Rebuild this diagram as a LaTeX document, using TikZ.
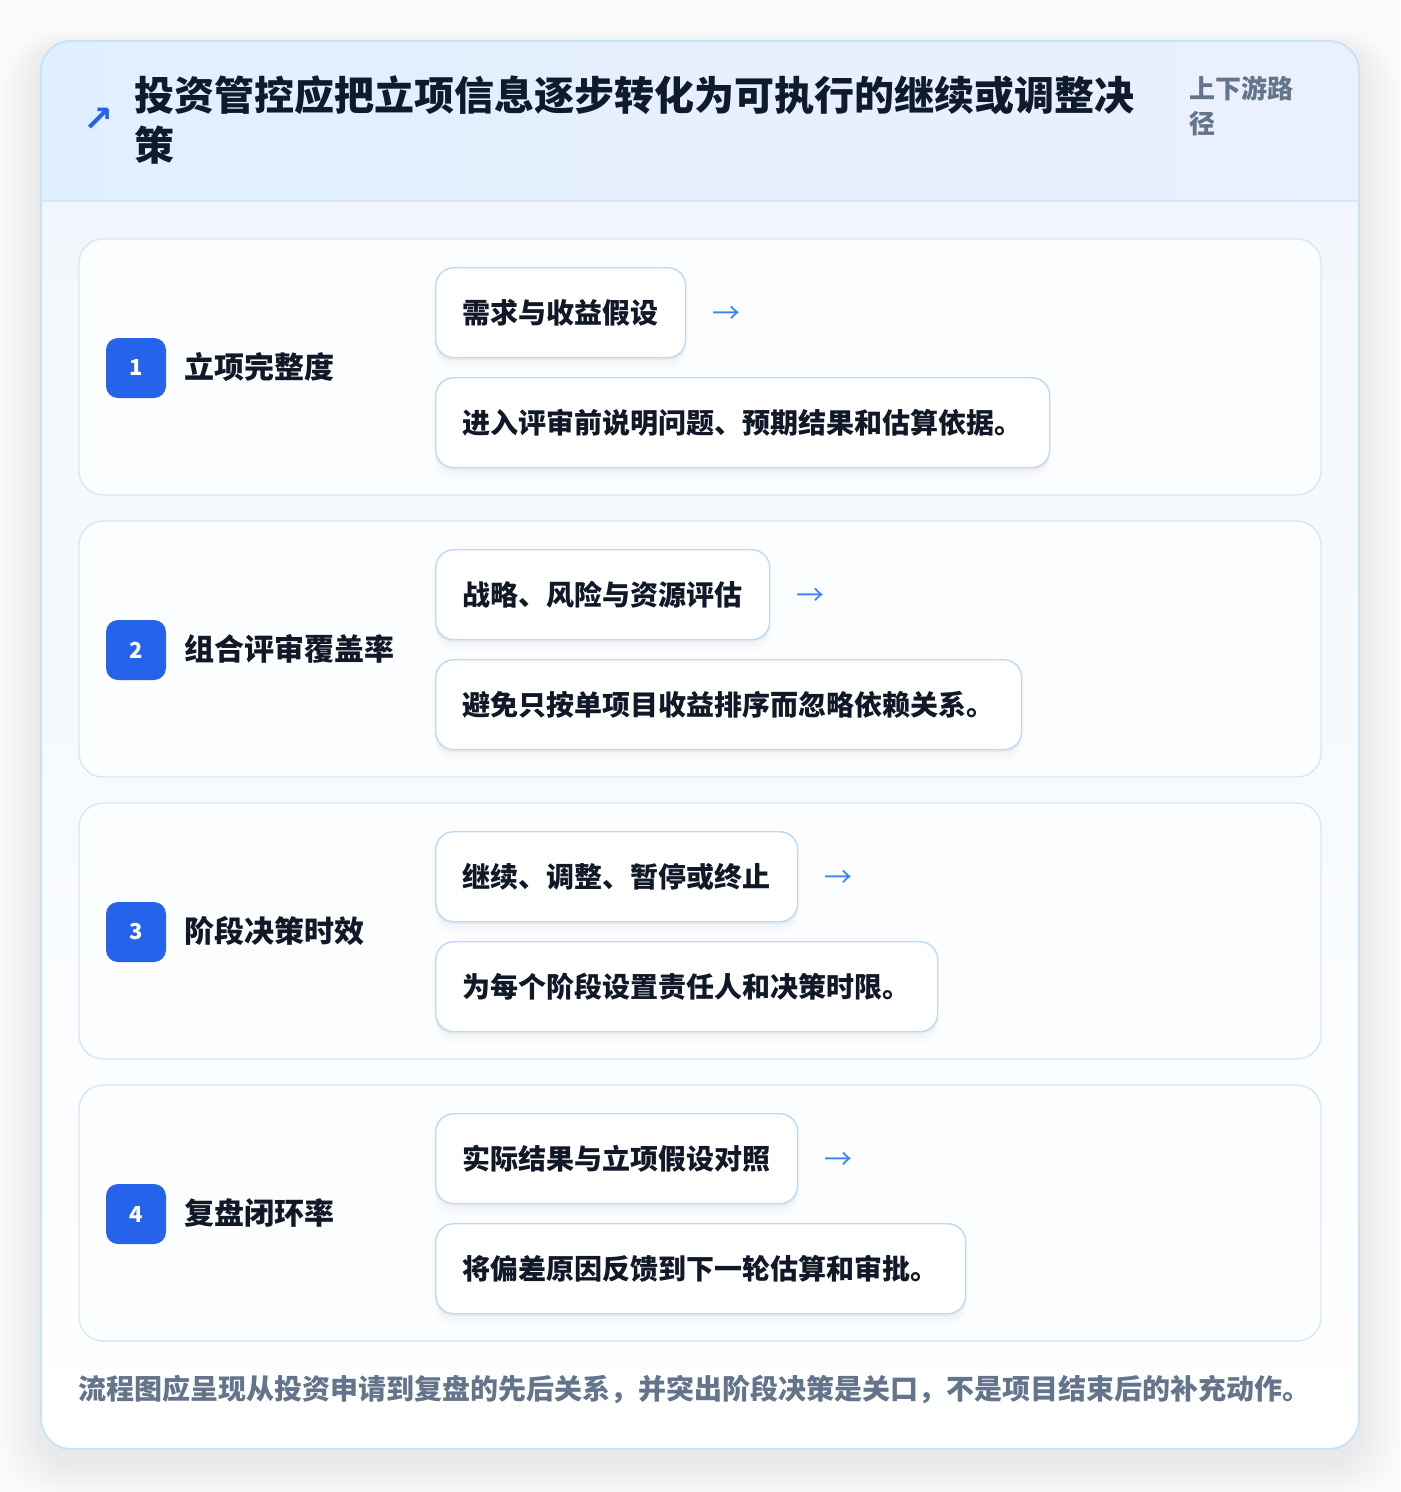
\documentclass[tikz,border=0pt]{standalone}
\usepackage{fontspec}
\newfontfamily\cjk{Noto Sans CJK SC}
\newfontfamily\dejavu{DejaVu Sans}
\usetikzlibrary{positioning,calc,shadows}
\definecolor{pagebg}{HTML}{FAFAFB}
\definecolor{cardborder}{HTML}{C6E3F7}
\definecolor{headL}{HTML}{E0EFFE}
\definecolor{headR}{HTML}{EBF0FD}
\definecolor{headline}{HTML}{D5E7F8}
\definecolor{bodytop}{HTML}{F1F7FC}
\definecolor{rowfill}{HTML}{FCFDFE}
\definecolor{rowborder}{HTML}{D6E9F8}
\definecolor{boxborder}{HTML}{BFD9F6}
\definecolor{ink}{HTML}{111827}
\definecolor{titleink}{HTML}{0F1B2D}
\definecolor{muted}{HTML}{64748B}
\definecolor{brand}{HTML}{2563EB}
\definecolor{arrowblue}{HTML}{3B82F6}
\tikzset{
  rowcard/.style={draw=rowborder, line width=1.1pt, fill=rowfill, rounded corners=18pt},
  badgebox/.style={fill=brand, rounded corners=9pt, minimum width=45pt, minimum height=45pt, inner sep=0pt,
    text=white, font=\cjk\bfseries\fontsize{16.5}{18}\selectfont},
  rowlabel/.style={anchor=west, inner sep=0pt, text=ink, font=\cjk\bfseries\fontsize{22.5}{26}\selectfont},
  stepbox/.style={anchor=north west, draw=boxborder, line width=1.1pt, fill=white, rounded corners=13.5pt,
    minimum height=67.5pt, inner xsep=20.25pt, inner ysep=0pt, text=ink,
    font=\cjk\bfseries\fontsize{21}{24}\selectfont,
    drop shadow={shadow xshift=0pt, shadow yshift=-2pt, opacity=0.03, fill=black},
    drop shadow={shadow xshift=0pt, shadow yshift=-5pt, opacity=0.02, fill=black},
    drop shadow={shadow xshift=0pt, shadow yshift=-9pt, opacity=0.012, fill=black}},
  arrowtext/.style={anchor=west, inner sep=0pt, text=arrowblue, font=\cjk\fontsize{21}{24}\selectfont},
}
\begin{document}
\begin{tikzpicture}[x=0.75pt,y=-0.75pt]
% page
\fill[pagebg] (0,0) rectangle (1400,1492);
\useasboundingbox (0,0) rectangle (1400,1492);
% outer shadow (soft, mostly below)
\foreach \i in {1,...,16}{
  \fill[black, opacity=0.0055, rounded corners=22.5pt+\i*1.5pt]
    ({41-\i*2.4},{41+10-\i*1.4}) rectangle ({1359+\i*2.4},{1449+14+\i*2.2});
}
% outer card
\fill[white, rounded corners=22.5pt] (41,41) rectangle (1359,1449);
\begin{scope}
  \clip[rounded corners=22.5pt] (41,41) rectangle (1359,1449);
  \shade[left color=headL, right color=headR] (41,41) rectangle (1359,201);
  \shade[top color=bodytop, bottom color=white] (41,201) rectangle (1359,1449);
  \draw[headline, line width=1.1pt] (41,201) -- (1359,201);
\end{scope}
\draw[cardborder, line width=1.5pt, rounded corners=22.5pt] (41,41) rectangle (1359,1449);

% header
\node[anchor=center, inner sep=0pt, text=brand, font=\dejavu\bfseries\fontsize{27}{30}\selectfont] (hdarrow) at (99,120) {↗};
\node[anchor=west, inner sep=0pt, text=titleink, align=left,
      font=\cjk\bfseries\fontsize{30}{37.5}\selectfont] (title) at (134,120)
      {投资管控应把立项信息逐步转化为可执行的继续或调整决\\策};
\node[anchor=west, inner sep=0pt, text=muted, align=left,
      font=\cjk\bfseries\fontsize{19.5}{26.25}\selectfont] (tag) at (1189,106)
      {上下游路\\径};

% rows
\foreach \i/\lab/\top/\bot in {
  1/立项完整度/需求与收益假设/进入评审前说明问题、预期结果和估算依据。,
  2/组合评审覆盖率/战略、风险与资源评估/避免只按单项目收益排序而忽略依赖关系。,
  3/阶段决策时效/继续、调整、暂停或终止/为每个阶段设置责任人和决策时限。,
  4/复盘闭环率/实际结果与立项假设对照/将偏差原因反馈到下一轮估算和审批。}{
  \pgfmathsetmacro{\Y}{239+282*(\i-1)}
  \draw[rowcard] (79,\Y) rectangle (1321,\Y+256);
  \node[badgebox] (badge\i) at (136,\Y+129) {\i};
  \node[rowlabel] (label\i) at (184,\Y+128) {\lab};
  \node[stepbox] (top\i) at (435,\Y+28) {\top};
  \node[stepbox] (bot\i) at (435,\Y+138) {\bot};
  \node[arrowtext] (arr\i) at ($(top\i.east)+(19.5pt,-2pt)$) {→};
}

% footer
\node[anchor=west, inner sep=0pt, text=muted, font=\cjk\bfseries\fontsize{21}{24}\selectfont] (foot) at (78,1389)
  {流程图应呈现从投资申请到复盘的先后关系，并突出阶段决策是关口，不是项目结束后的补充动作。};
\end{tikzpicture}
\end{document}
